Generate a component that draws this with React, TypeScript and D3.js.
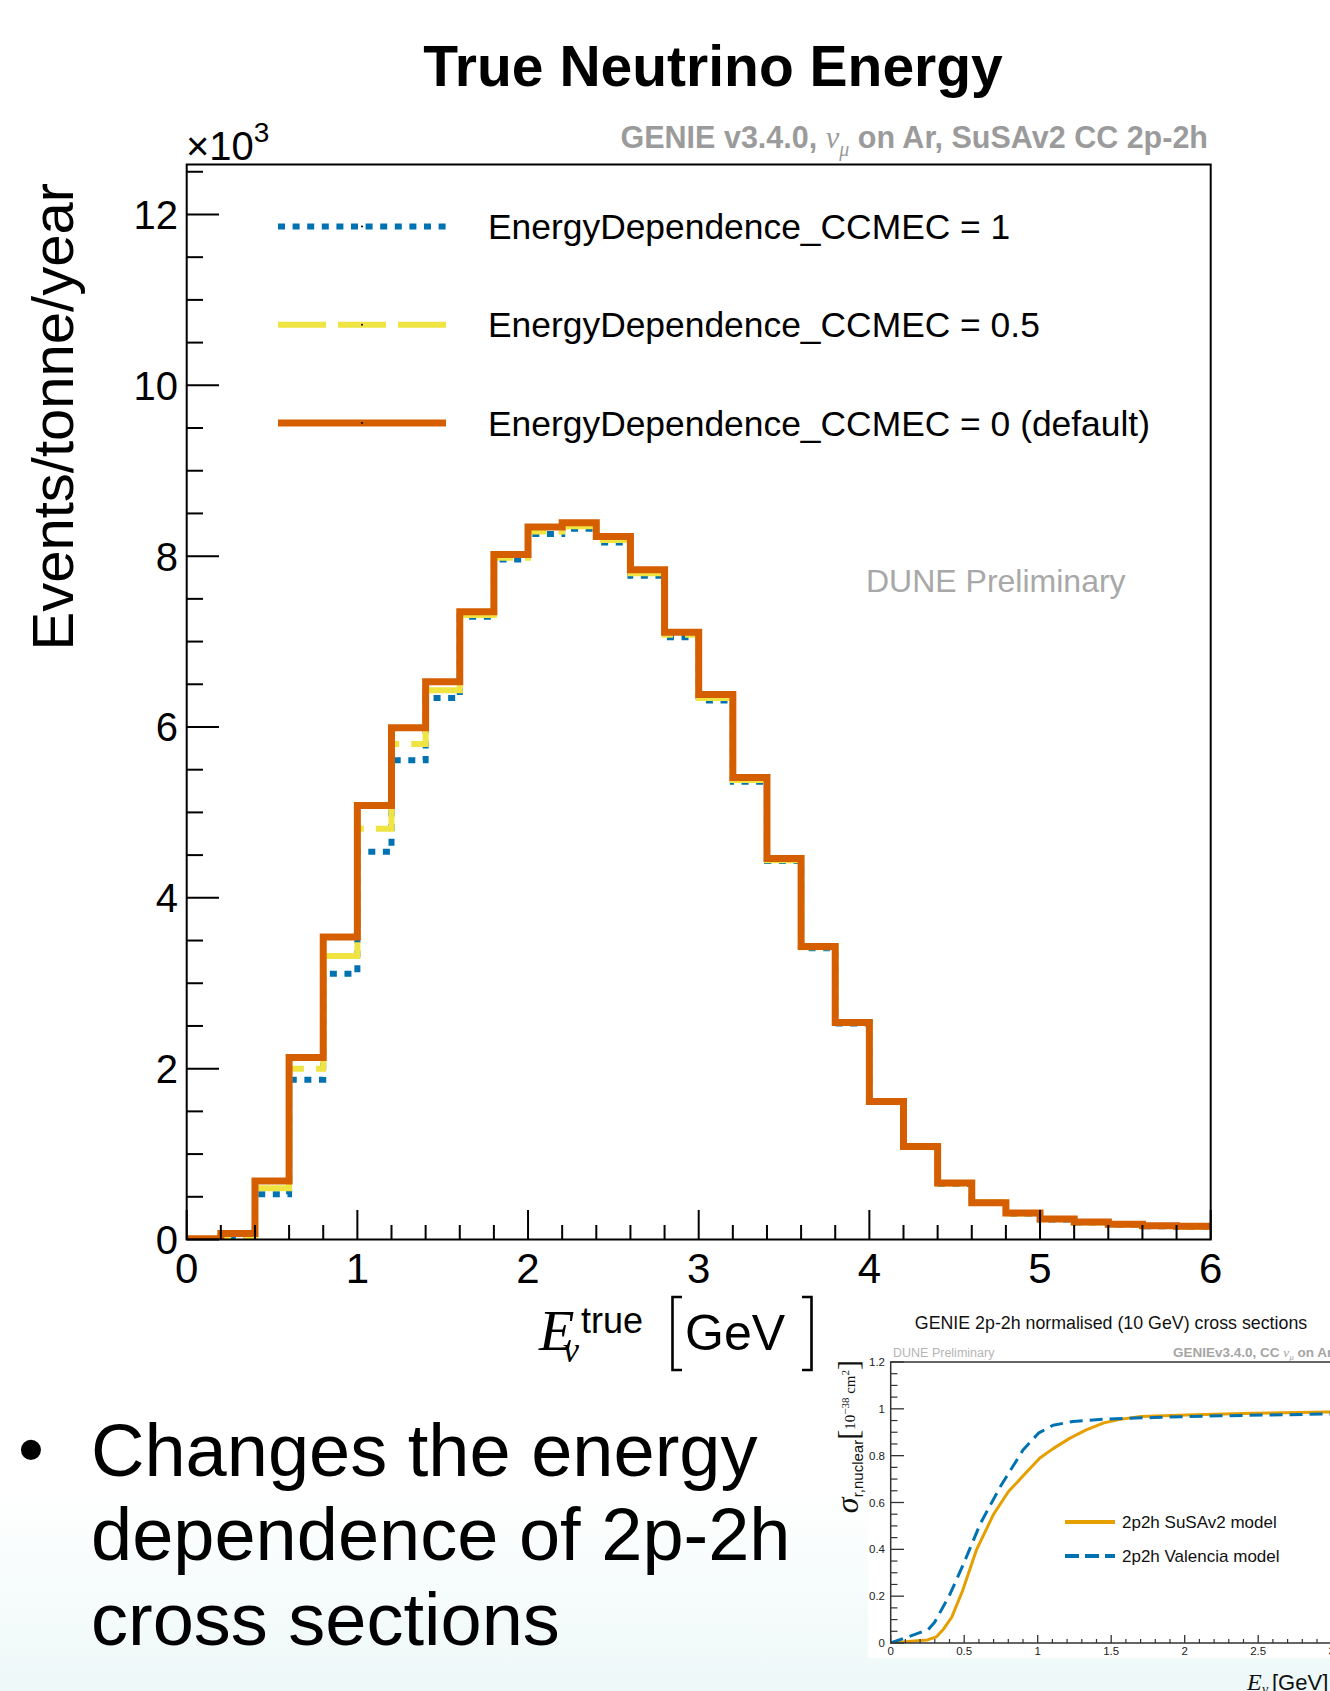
import React from "react";
import * as d3 from "d3";

// ---------- Main histogram data (x10^3 events/tonne/year) ----------
const binLow = [0, 0.2, 0.4, 0.6, 0.8, 1.0, 1.2, 1.4, 1.6, 1.8, 2.0, 2.2, 2.4, 2.6, 2.8, 3.0, 3.2, 3.4, 3.6, 3.8, 4.0, 4.2, 4.4, 4.6, 4.8, 5.0, 5.2, 5.4, 5.6, 5.8];
const binHigh = 6.0;
const seriesDep1 = [0.0, 0.02, 0.53, 1.87, 3.11, 4.54, 5.61, 6.34, 7.29, 7.96, 8.26, 8.32, 8.16, 7.77, 7.05, 6.31, 5.36, 4.43, 3.41, 2.53, 1.61, 1.09, 0.65, 0.43, 0.3, 0.235, 0.2, 0.175, 0.155, 0.15];
const seriesDep05 = [0.0, 0.04, 0.6, 2.0, 3.32, 4.81, 5.8, 6.43, 7.31, 7.98, 8.29, 8.35, 8.19, 7.8, 7.08, 6.34, 5.38, 4.44, 3.42, 2.54, 1.615, 1.095, 0.655, 0.435, 0.305, 0.24, 0.2, 0.178, 0.158, 0.152];
const seriesDep0 = [0.01, 0.07, 0.685, 2.13, 3.54, 5.08, 5.99, 6.53, 7.35, 8.02, 8.34, 8.39, 8.23, 7.84, 7.11, 6.38, 5.41, 4.46, 3.43, 2.54, 1.615, 1.09, 0.66, 0.43, 0.31, 0.24, 0.205, 0.18, 0.16, 0.155];
const legendLabels = ["EnergyDependence_CCMEC = 1", "EnergyDependence_CCMEC = 0.5", "EnergyDependence_CCMEC = 0 (default)"];
const xTickLabels = ["0", "1", "2", "3", "4", "5", "6"];
const yTickLabels = ["0", "2", "4", "6", "8", "10", "12"];

// ---------- Inset data ----------
const susaE = [0, 0.2, 0.25, 0.31, 0.36, 0.415, 0.49, 0.585, 0.7, 0.8, 0.925, 1.015, 1.105, 1.22, 1.33, 1.45, 1.56, 1.7, 2.01, 2.47, 2.97, 3.5];
const susaXS = [0, 0.011, 0.013, 0.026, 0.06, 0.11, 0.225, 0.4, 0.55, 0.646, 0.73, 0.79, 0.83, 0.875, 0.91, 0.94, 0.955, 0.967, 0.974, 0.981, 0.986, 0.989];
const valE = [0, 0.255, 0.3, 0.4, 0.49, 0.61, 0.745, 0.9, 1.005, 1.105, 1.24, 1.45, 1.79, 2.24, 2.97, 3.5];
const valXS = [0, 0.057, 0.09, 0.204, 0.33, 0.51, 0.667, 0.824, 0.896, 0.93, 0.946, 0.956, 0.963, 0.97, 0.978, 0.981];
const insetXTicks = ["0", "0.5", "1", "1.5", "2", "2.5", "3"];
const insetYTicks = ["0", "0.2", "0.4", "0.6", "0.8", "1", "1.2"];
const insetLegend = ["2p2h SuSAv2 model", "2p2h Valencia model"];
const bulletLines = ["Changes the energy", "dependence of 2p-2h", "cross sections"];

const SANS = "'Liberation Sans', Arial, Helvetica, sans-serif";
const SERIF = "'Liberation Serif', 'Times New Roman', serif";
const BLUE = "#0072B2";
const YELLOW = "#F0E442";
const VERM = "#D55E00";
const ORANGE = "#E69F00";

export default function App() {
  const x = d3.scaleLinear().domain([0, 6]).range([186.7, 1210.7]);
  const y = d3.scaleLinear().domain([0, 12.585]).range([1239.5, 164.5]);

  const stepLine = (vals: number[]) => {
    const pts: [number, number][] = binLow.map((b, i) => [b, vals[i]]);
    pts.push([binHigh, vals[vals.length - 1]]);
    return d3
      .line<[number, number]>()
      .x((d) => x(d[0]))
      .y((d) => y(d[1]))
      .curve(d3.curveStepAfter)(pts) as string;
  };

  const xMajor = xTickLabels.map(Number);
  const xMinor = d3.range(0, 30).map((i) => i * 0.2).filter((v) => Math.abs(v - Math.round(v)) > 1e-6);
  const yMajor = yTickLabels.map(Number);
  const yMinor = d3.range(0, 26).map((i) => i * 0.5).filter((v) => v % 2 !== 0);

  const series = [
    { vals: seriesDep1, color: BLUE, dash: "7,7.6", w: 6 },
    { vals: seriesDep05, color: YELLOW, dash: "48,12", w: 6 },
    { vals: seriesDep0, color: VERM, dash: "", w: 7 },
  ];
  const legendY = [226.5, 324.7, 423];

  // inset scales
  const ix = d3.scaleLinear().domain([0, 4]).range([890.7, 890.7 + 588]);
  const iy = d3.scaleLinear().domain([0, 1.2]).range([1643, 1362]);
  const iLine = d3.line<[number, number]>().x((d) => ix(d[0])).y((d) => iy(d[1]));
  const susaPath = iLine(susaE.map((e, i) => [e, susaXS[i]] as [number, number])) as string;
  const valPath = iLine(valE.map((e, i) => [e, valXS[i]] as [number, number])) as string;
  const iyMinor = d3.range(0, 25).map((i) => i * 0.05).filter((v) => Math.abs(v * 5 - Math.round(v * 5)) > 1e-6);
  const ixMinor = d3.range(0, 40).map((i) => i * 0.1).filter((v) => Math.abs(v * 2 - Math.round(v * 2)) > 1e-6);

  return (
    <div style={{ position: "absolute", left: 0, top: 0 }}>
      <svg width={1330} height={1691} viewBox="0 0 1330 1691" style={{ display: "block" }}>
        <defs>
          <linearGradient id="bg" x1="0" y1="0" x2="0" y2="1">
            <stop offset="0" stopColor="#ffffff" />
            <stop offset="0.88" stopColor="#ffffff" />
            <stop offset="1" stopColor="#eef8f8" />
          </linearGradient>
          <clipPath id="frameClip">
            <rect x={186.7} y={164.5} width={1024} height={1075} />
          </clipPath>
          <clipPath id="insetClip">
            <rect x={890.7} y={1362} width={588} height={281} />
          </clipPath>
        </defs>
        <rect x={0} y={0} width={1330} height={1691} fill="url(#bg)" />

        {/* Title */}
        <text x={713} y={86} textAnchor="middle" fontFamily={SANS} fontWeight="bold" fontSize={57} fill="#000">
          True Neutrino Energy
        </text>

        {/* GENIE label */}
        <text x={1208} y={148} textAnchor="end" fontFamily={SANS} fontWeight="bold" fontSize={30.5} fill="#9b9b9b">
          GENIE v3.4.0,{" "}
          <tspan fontFamily={SERIF} fontStyle="italic" fontWeight="normal">ν</tspan>
          <tspan fontFamily={SERIF} fontStyle="italic" fontWeight="normal" fontSize={20} dy={8}>μ</tspan>
          <tspan dy={-8}> on Ar, SuSAv2 CC 2p-2h</tspan>
        </text>

        {/* x10^3 */}
        <text x={186} y={160} fontFamily={SANS} fontSize={40} fill="#000">
          ×10<tspan fontSize={28} dy={-18}>3</tspan>
        </text>

        {/* Histograms */}
        <g clipPath="url(#frameClip)">
          {series.map((s, i) => (
            <path key={i} d={stepLine(s.vals)} fill="none" stroke={s.color} strokeWidth={s.w}
              strokeDasharray={s.dash || undefined} strokeLinejoin="miter" strokeLinecap="butt" />
          ))}
        </g>

        {/* Frame */}
        <rect x={186.7} y={164.5} width={1024} height={1075} fill="none" stroke="#000" strokeWidth={2} />

        {/* X ticks */}
        {xMajor.map((v, i) => (
          <g key={"xM" + i}>
            <line x1={x(v)} x2={x(v)} y1={1239.5} y2={1210} stroke="#000" strokeWidth={2} />
            <text x={x(v)} y={1283} textAnchor="middle" fontFamily={SANS} fontSize={42} fill="#000">
              {xTickLabels[i]}
            </text>
          </g>
        ))}
        {xMinor.map((v, i) => (
          <line key={"xm" + i} x1={x(v)} x2={x(v)} y1={1239.5} y2={1225} stroke="#000" strokeWidth={2} />
        ))}

        {/* Y ticks */}
        {yMajor.map((v, i) => (
          <g key={"yM" + i}>
            <line x1={186.7} x2={219} y1={y(v)} y2={y(v)} stroke="#000" strokeWidth={2} />
            <text x={178} y={y(v) + 14.5} textAnchor="end" fontFamily={SANS} fontSize={40} fill="#000">
              {yTickLabels[i]}
            </text>
          </g>
        ))}
        {yMinor.map((v, i) => (
          <line key={"ym" + i} x1={186.7} x2={203} y1={y(v)} y2={y(v)} stroke="#000" strokeWidth={2} />
        ))}

        {/* Y title */}
        <text transform="translate(73,183) rotate(-90)" textAnchor="end" fontFamily={SANS} fontSize={58} fill="#000">
          Events/tonne/year
        </text>

        {/* X title */}
        <text x={539} y={1350} fontFamily={SERIF} fontStyle="italic" fontSize={58} fill="#000">E</text>
        <text x={563} y={1362} fontFamily={SERIF} fontStyle="italic" fontSize={36} fill="#000">ν</text>
        <text x={581} y={1333} fontFamily={SANS} fontSize={36} fill="#000">true</text>
        <path d="M682,1297 H672.5 V1370 H682" fill="none" stroke="#000" strokeWidth={2.6} />
        <text x={685} y={1350} fontFamily={SANS} fontSize={50} fill="#000">GeV</text>
        <path d="M802,1297 H811.5 V1370 H802" fill="none" stroke="#000" strokeWidth={2.6} />

        {/* Legend */}
        {series.map((s, i) => (
          <g key={"lg" + i}>
            <line x1={278} x2={446} y1={legendY[i]} y2={legendY[i]} stroke={s.color} strokeWidth={s.w}
              strokeDasharray={s.dash || undefined} />
            <circle cx={362} cy={legendY[i]} r={1} fill="#000" />
            <text x={488} y={legendY[i] + 12.5} fontFamily={SANS} fontSize={35.4} fill="#000">
              {legendLabels[i]}
            </text>
          </g>
        ))}

        {/* DUNE Preliminary */}
        <text x={866} y={592} fontFamily={SANS} fontSize={32} fill="#a8a8a8">DUNE Preliminary</text>

        {/* Bullet text */}
        <text x={18} y={1475} fontFamily={SANS} fontSize={74} fill="#000">•</text>
        {bulletLines.map((l, i) => (
          <text key={"bl" + i} x={91} y={1475.6 + i * 84.7} fontFamily={SANS} fontSize={74} fill="#000">
            {l}
          </text>
        ))}

        {/* ---------- Inset ---------- */}
        <rect x={868} y={1296} width={462} height={362} fill="#ffffff" />
        <text x={1111} y={1329} textAnchor="middle" fontFamily={SANS} fontSize={17.8} fill="#111">
          GENIE 2p-2h normalised (10 GeV) cross sections
        </text>
        <text x={893} y={1357} fontFamily={SANS} fontSize={12.5} fill="#b5b5b5">DUNE Preliminary</text>
        <text x={1173} y={1357} fontFamily={SANS} fontWeight="bold" fontSize={13.5} fill="#a5a5a5">
          GENIEv3.4.0, CC{" "}
          <tspan fontFamily={SERIF} fontStyle="italic" fontWeight="normal">ν</tspan>
          <tspan fontFamily={SERIF} fontStyle="italic" fontWeight="normal" fontSize={9} dy={3}>μ</tspan>
          <tspan dy={-3}> on Ar</tspan>
        </text>

        <g clipPath="url(#insetClip)">
          <path d={susaPath} fill="none" stroke={ORANGE} strokeWidth={3} strokeLinejoin="round" />
          <path d={valPath} fill="none" stroke={BLUE} strokeWidth={3} strokeDasharray="13,7" strokeLinejoin="round" />
        </g>
        <rect x={890.7} y={1362} width={588} height={281} fill="none" stroke="#333" strokeWidth={1.5} />
        {insetYTicks.map((t, i) => {
          const v = Number(t);
          return (
            <g key={"iy" + i}>
              <line x1={890.7} x2={904} y1={iy(v)} y2={iy(v)} stroke="#333" strokeWidth={1.3} />
              <text x={885} y={iy(v) + 4} textAnchor="end" fontFamily={SANS} fontSize={11.5} fill="#222">{t}</text>
            </g>
          );
        })}
        {iyMinor.map((v, i) => (
          <line key={"iym" + i} x1={890.7} x2={897.5} y1={iy(v)} y2={iy(v)} stroke="#333" strokeWidth={1.2} />
        ))}
        {insetXTicks.map((t, i) => {
          const v = Number(t);
          return (
            <g key={"ix" + i}>
              <line x1={ix(v)} x2={ix(v)} y1={1643} y2={1635} stroke="#333" strokeWidth={1.3} />
              <text x={ix(v)} y={1655} textAnchor="middle" fontFamily={SANS} fontSize={11.5} fill="#222">{t}</text>
            </g>
          );
        })}
        {ixMinor.map((v, i) => (
          <line key={"ixm" + i} x1={ix(v)} x2={ix(v)} y1={1643} y2={1639} stroke="#333" strokeWidth={1.2} />
        ))}

        {/* inset legend */}
        <line x1={1065} x2={1115} y1={1522} y2={1522} stroke={ORANGE} strokeWidth={4} />
        <text x={1122} y={1528} fontFamily={SANS} fontSize={17} fill="#111">{insetLegend[0]}</text>
        <line x1={1065} x2={1115} y1={1556} y2={1556} stroke={BLUE} strokeWidth={4} strokeDasharray="14,6" />
        <text x={1122} y={1562} fontFamily={SANS} fontSize={17} fill="#111">{insetLegend[1]}</text>

        {/* inset y title */}
        <g transform="translate(858,1360) rotate(-90)">
          <text x={0} y={0} textAnchor="end" fontFamily={SANS} fontSize={14} fill="#111">
            <tspan fontFamily={SERIF} fontStyle="italic" fontSize={32}>σ</tspan>
            <tspan fontSize={15} dy={5}>r,nuclear</tspan>
            <tspan dy={-5} fontFamily={SERIF} fontSize={30}>[</tspan>
            <tspan fontFamily={SERIF} fontSize={15} dy={-3}>10</tspan>
            <tspan fontFamily={SERIF} fontSize={11} dy={-6}>−38</tspan>
            <tspan fontFamily={SERIF} fontSize={15} dy={6}> cm</tspan>
            <tspan fontFamily={SERIF} fontSize={11} dy={-6}>2</tspan>
            <tspan fontFamily={SERIF} fontSize={30} dy={9}>]</tspan>
          </text>
        </g>

        {/* inset x title */}
        <text x={1247} y={1690} fontFamily={SERIF} fontStyle="italic" fontSize={24} fill="#111">E</text>
        <text x={1262} y={1694} fontFamily={SERIF} fontStyle="italic" fontSize={14} fill="#111">ν</text>
        <text x={1272} y={1690} fontFamily={SANS} fontSize={22} fill="#111">[GeV]</text>
      </svg>
    </div>
  );
}
